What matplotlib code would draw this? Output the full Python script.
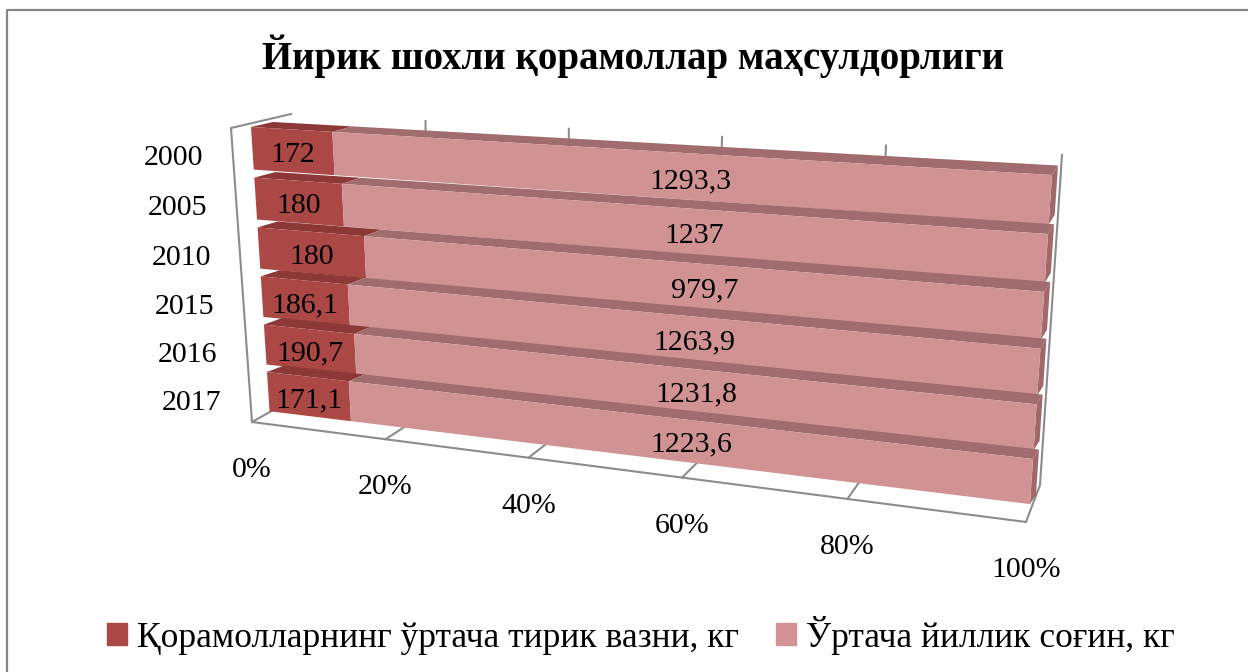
import numpy as np
from matplotlib import pyplot as plt
from matplotlib.patches import Patch

years = ['2000', '2005', '2010', '2015', '2016', '2017']
weight = [172, 180, 180, 186.1, 190.7, 171.1]
milk = [1293.3, 1237, 979.7, 1263.9, 1231.8, 1223.6]
weight_labels = ['172', '180', '180', '186,1', '190,7', '171,1']
milk_labels = ['1293,3', '1237', '979,7', '1263,9', '1231,8', '1223,6']
pct_labels = ['0%', '20%', '40%', '60%', '80%', '100%']
title = 'Йирик шохли қорамоллар маҳсулдорлиги'
legend_labels = ['Қорамолларнинг ўртача тирик вазни, кг', 'Ўртача йиллик соғин, кг']

RED, RED_TOP = '#ab4744', '#8c3836'
PINK, PINK_TOP, PINK_SIDE = '#d09292', '#a06c6e', '#a0686b'
GRID = '#8c8c8c'
FONT = ['Liberation Serif', 'DejaVu Serif']
BAR_H = 0.84


def homography(tl, tr, bl, br, vmax):
    # unit square (stretched to vmax in v) -> picture pixels
    src = [(0, 0), (1, 0), (0, vmax), (1, vmax)]
    dst = [tl, tr, bl, br]
    a, b = [], []
    for (u, v), (x, y) in zip(src, dst):
        a.append([u, v, 1, 0, 0, 0, -u * x, -v * x])
        a.append([0, 0, 0, u, v, 1, -u * y, -v * y])
        b += [x, y]
    h = np.append(np.linalg.solve(np.array(a, float), np.array(b, float)), 1).reshape(3, 3)

    def project(u, v):
        p = h @ np.array([u, v, 1.0])
        return p[0] / p[2], p[1] / p[2]
    return project


# bars: front and back planes, v counts bar slots from the top one
bar_front = homography((251, 127), (1052, 175), (267, 372), (1033, 459), 5)
bar_back = homography((273, 122), (1058, 165.5), (284, 365.5), (1039, 449.5), 5)
# frame of the 3d box
box_front = homography((231, 128), (1050, 172), (252, 422), (1026, 522), 6)
box_back = homography((291, 114), (1062, 155), (298, 396), (1040, 485), 6)

fig = plt.figure(figsize=(12.48, 6.72), dpi=100)
ax = fig.add_axes([0, 0, 1, 1])
ax.set_xlim(0, 1248)
ax.set_ylim(672, 0)
ax.axis('off')

# outer border
ax.plot([7, 7, 1248], [672, 10, 10], color='#868686', lw=1.6, zorder=1)

# box lines, the bars hide most of them
line = dict(color=GRID, lw=1.5, zorder=2, solid_joinstyle='miter')
pts = [box_back(0, 0), box_front(0, 0), box_front(0, 6), box_front(1, 6), box_back(1, 6), box_back(1, 0)]
ax.plot(*zip(*pts), **line)
for t in [0, 0.2, 0.4, 0.6, 0.8]:
    ax.plot(*zip(box_front(t, 6), box_back(t, 6)), **line)
    if t > 0:
        # only the stub above the first bar shows in the reference
        ax.plot(*zip(box_back(t, 0), box_back(t, 0.5)), **line)

for i in range(len(years)):
    share = weight[i] / (weight[i] + milk[i])
    top, bot = i, i + BAR_H
    z = 3 + i
    # top faces
    ax.fill(*zip(bar_front(0, top), bar_front(share, top), bar_back(share, top), bar_back(0, top)),
            color=RED_TOP, lw=0, zorder=z)
    ax.fill(*zip(bar_front(share, top), bar_front(1, top), bar_back(1, top), bar_back(share, top)),
            color=PINK_TOP, lw=0, zorder=z)
    # right end
    ax.fill(*zip(bar_front(1, top), bar_back(1, top), bar_back(1, bot), bar_front(1, bot)),
            color=PINK_SIDE, lw=0, zorder=z)
    # front faces
    ax.fill(*zip(bar_front(0, top), bar_front(share, top), bar_front(share, bot), bar_front(0, bot)),
            color=RED, lw=0, zorder=z)
    ax.fill(*zip(bar_front(share, top), bar_front(1, top), bar_front(1, bot), bar_front(share, bot)),
            color=PINK, lw=0, zorder=z)

    mid = i + BAR_H / 2
    x, y = bar_front(share / 2, mid)
    ax.text(x, y + 4, weight_labels[i], ha='center', va='center', fontsize=21.5, family=FONT, zorder=20)
    x, y = bar_front((share + 1) / 2, mid)
    ax.text(x + 24, y + 6, milk_labels[i], ha='center', va='center', fontsize=21.5, family=FONT, zorder=20)

    x, y = box_front(0, i + 0.5)
    ax.text(x - 59, y + 4, years[i], ha='center', va='center', fontsize=21.5, family=FONT)

for j, lab in enumerate(pct_labels):
    x, y = box_front(j / 5, 6)
    ax.text(x, y + 48, lab, ha='center', va='center', fontsize=21.5, family=FONT)

ax.text(633, 56, title, ha='center', va='center', fontsize=28, fontweight='bold', family=FONT)

handles = [Patch(color=RED), Patch(color=PINK)]
ax.legend(handles, legend_labels, ncol=2, frameon=False, loc='center', bbox_to_anchor=(0.5134, 0.055),
          prop=dict(family=FONT, size=25.5), handlelength=0.56, handleheight=0.56,
          handletextpad=0.28, columnspacing=1.05)

fig.savefig('out.png', dpi=100)
